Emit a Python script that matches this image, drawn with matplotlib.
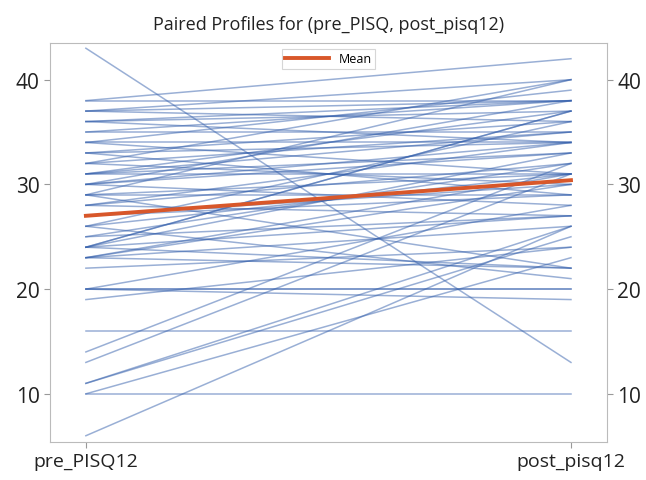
import matplotlib
matplotlib.use("Agg")
import matplotlib.pyplot as plt
import numpy as np

# paired scores (one entry per subject)
PRE = [43, 38, 38, 37, 37, 36, 36, 35, 35, 34, 34, 33, 33, 32, 32, 31, 31, 31,
       30, 30, 29, 29, 29, 28, 28, 27, 26, 26, 26, 25, 25, 24, 24, 24, 24,
       23, 23, 23, 23, 22, 20, 20, 20, 19, 16, 14, 13, 11, 11, 10, 10, 6, 20,
       24, 37, 36, 30, 34, 33, 32, 31, 30, 29, 28, 27]
POST = [13, 42, 38, 40, 36, 37, 34, 38, 35, 39, 31, 36, 29, 40, 35, 37, 33, 31,
        38, 28, 40, 29, 22, 34, 27, 30, 36, 31, 21, 32, 27, 37, 33, 27, 22,
        30, 31, 26, 22, 24, 20, 20, 19, 24, 16, 32, 31, 25, 26, 10, 23, 26, 28,
        37, 38, 38, 34, 34, 34, 30, 35, 33, 31, 32, 29]
LABELS = ["pre_PISQ12", "post_pisq12"]
YTICKS = [10, 20, 30, 40]

pre = np.array(PRE)
post = np.array(POST)

plt.rcParams["font.family"] = ["Open Sans", "DejaVu Sans"]
fig = plt.figure(figsize=(6.46, 4.81), dpi=100)
ax = fig.add_axes([0.0774, 0.079, 0.862, 0.8295])

for a, b in zip(pre, post):
    ax.plot([0, 1], [a, b], color="#3560ac", lw=1.1, alpha=0.5)

ax.plot([0, 1], [pre.mean(), post.mean()], color="#d8572a", lw=2.8, label="Mean")

ax.set_xlim(-0.074, 1.074)
ax.set_ylim(5.4, 43.5)
ax.set_xticks([0, 1])
ax.set_xticklabels(LABELS, fontsize=14, color="#222222")
ax.set_yticks(YTICKS)
ax.set_yticklabels([str(t) for t in YTICKS], fontsize=15, color="#222222")
ax.tick_params(axis="y", left=True, right=True, labelleft=True, labelright=True,
               color="#999999", length=4)
ax.tick_params(axis="x", color="#999999", length=4)
for sp in ax.spines.values():
    sp.set_color("#bbbbbb")

ax.set_title("Paired Profiles for (pre_PISQ, post_pisq12)", fontsize=13,
             color="#222222", pad=10)
leg = ax.legend(loc="upper center", frameon=True, fancybox=False,
                handlelength=3.5, borderpad=0.25, bbox_to_anchor=(0.5, 1.0),
                prop={"family": "Open Sans", "size": 9})
leg.get_frame().set_edgecolor("#cccccc")
leg.get_frame().set_linewidth(0.8)

fig.savefig("out.png", dpi=100)
